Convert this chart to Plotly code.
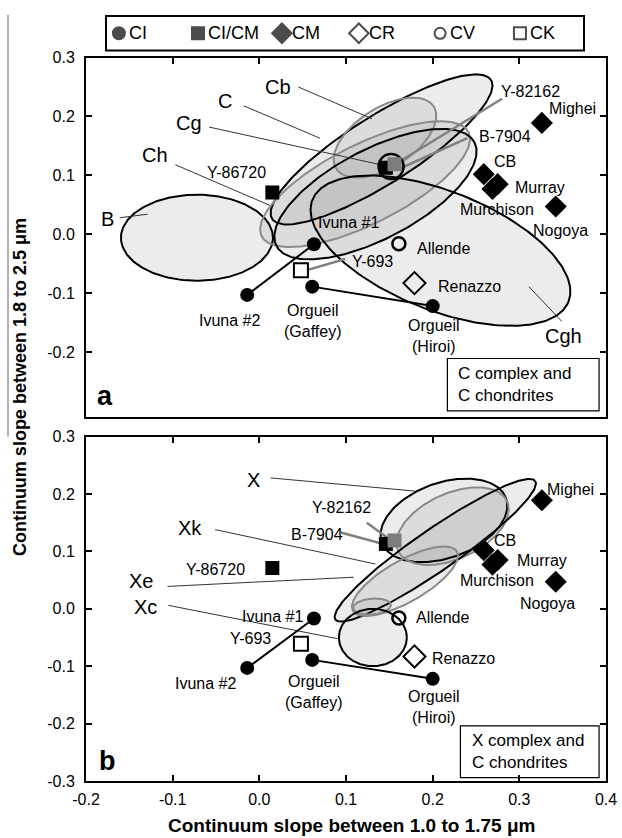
import numpy as np
import plotly.graph_objects as go

# ---------------- meteorite continuum slopes (x: 1.0-1.75 um, y: 1.8-2.5 um) ----------------
ci_names = ["Ivuna #1", "Ivuna #2", "Orgueil (Gaffey)", "Orgueil (Hiroi)"]
ci_x = [0.063, -0.014, 0.061, 0.200]
ci_y = [-0.017, -0.103, -0.089, -0.122]

cicm_names = ["Y-86720", "B-7904", "Y-82162"]
cicm_x = [0.015, 0.146, 0.156]
cicm_y = [0.071, 0.113, 0.119]
cicm_colors = ["black", "black", "#7d7d7d"]

cm_names = ["Mighei", "CB", "Murray", "Murchison", "Nogoya"]
cm_x = [0.326, 0.259, 0.275, 0.269, 0.342]
cm_y = [0.189, 0.102, 0.085, 0.077, 0.047]

cr_names = ["Renazzo"]
cr_x = [0.179]
cr_y = [-0.083]

cv_names = ["Allende"]
cv_x = [0.161]
cv_y = [-0.016]

ck_names = ["Y-693"]
ck_x = [0.048]
ck_y = [-0.061]

# ring drawn round the Y-82162 / B-7904 pair in panel a
ring_x = [0.152]
ring_y = [0.115]

# ---------------- asteroid class regions: centre (data), semi-axes (px), tilt (deg) ----------------
cls_a_cx = [-0.072, 0.141, 0.145, 0.122, 0.134, 0.209]
cls_a_cy = [-0.006, 0.144, 0.164, 0.085, 0.068, -0.028]
cls_a_a = [76, 130, 58, 116, 112, 138]
cls_a_b = [43.5, 34, 30, 40, 45, 60]
cls_a_ang = [0, 32.7, 33, 27, 28, -22]
cls_a_col = ["black", "black", "#8a8a8a", "#8a8a8a", "black", "black"]

cls_b_cx = [0.213, 0.223, 0.203, 0.168, 0.130, 0.131]
cls_b_cy = [0.154, 0.144, 0.102, 0.048, 0.004, -0.050]
cls_b_a = [66, 60, 122, 60, 19, 34]
cls_b_b = [38, 33, 21, 21, 8, 29]
cls_b_ang = [20, 25, 35, 30, 5, 0]
cls_b_col = ["black", "#8a8a8a", "black", "#8a8a8a", "#8a8a8a", "black"]

# ---------------- text labels ----------------
cls_lab_a = ["B", "Ch", "Cg", "C", "Cb", "Cgh"]
cls_lab_a_x = [-0.175, -0.120, -0.081, -0.040, 0.022, 0.351]
cls_lab_a_y = [0.026, 0.135, 0.188, 0.227, 0.250, -0.173]
lead_a_x0 = [-0.161, -0.097, -0.058, -0.018, 0.045, 0.311]
lead_a_y0 = [0.028, 0.118, 0.182, 0.218, 0.250, -0.089]
lead_a_x1 = [-0.129, 0.012, 0.140, 0.070, 0.130, 0.349]
lead_a_y1 = [0.034, 0.049, 0.118, 0.163, 0.196, -0.148]

cls_lab_b = ["X", "Xk", "Xe", "Xc"]
cls_lab_b_x = [-0.007, -0.080, -0.137, -0.131]
cls_lab_b_y = [0.225, 0.141, 0.049, 0.003]
lead_b_x0 = [0.013, -0.051, -0.106, -0.105]
lead_b_y0 = [0.228, 0.138, 0.039, 0.006]
lead_b_x1 = [0.180, 0.134, 0.109, 0.090]
lead_b_y1 = [0.205, 0.078, 0.055, -0.052]

pt_lab = ["Y-82162", "B-7904", "Mighei", "CB", "Murray", "Murchison", "Nogoya",
          "Y-86720", "Ivuna #1", "Allende", "Y-693", "Renazzo", "Ivuna #2",
          "Orgueil<br>(Gaffey)", "Orgueil<br>(Hiroi)"]
pt_lab_a_x = [0.313, 0.284, 0.361, 0.284, 0.324, 0.274, 0.347,
              -0.026, 0.103, 0.213, 0.130, 0.242, -0.034, 0.062, 0.201]
pt_lab_a_y = [0.243, 0.166, 0.214, 0.124, 0.079, 0.042, 0.006,
              0.104, 0.020, -0.025, -0.047, -0.088, -0.147, -0.148, -0.173]
pt_lab_b_x = [0.095, 0.067, 0.359, 0.284, 0.326, 0.274, 0.332,
              -0.051, 0.015, 0.211, -0.010, 0.236, -0.062, 0.063, 0.201]
pt_lab_b_y = [0.176, 0.130, 0.208, 0.119, 0.084, 0.049, 0.009,
              0.069, -0.014, -0.016, -0.052, -0.087, -0.130, -0.145, -0.171]

# gray pointer lines from labels to the CI/CM and CK points
ptr_a_x0 = [0.159, 0.163, 0.055]
ptr_a_y0 = [0.121, 0.112, -0.061]
ptr_a_x1 = [0.280, 0.240, 0.099]
ptr_a_y1 = [0.230, 0.163, -0.042]
ptr_b_x0 = [0.124, 0.094]
ptr_b_y0 = [0.150, 0.133]
ptr_b_x1 = [0.153, 0.143]
ptr_b_y1 = [0.118, 0.113]

# CI pairs joined by lines (indices into ci_*)
ci_pairs = [(1, 0), (2, 3)]

x_ticks = [-0.2, -0.1, 0.0, 0.1, 0.2, 0.3, 0.4]
x_tick_text = ["-0.2", "-0.1", "0.0", "0.1", "0.2", "0.3", "0.4"]
ya_ticks = [-0.2, -0.1, 0.0, 0.1, 0.2, 0.3]
ya_tick_text = ["-0.2", "-0.1", "0.0", "0.1", "0.2", "0.3"]
yb_ticks = [-0.3, -0.2, -0.1, 0.0, 0.1, 0.2, 0.3]
yb_tick_text = ["-0.3", "-0.2", "-0.1", "0.0", "0.1", "0.2", "0.3"]

legend_names = ["CI", "CI/CM", "CM", "CR", "CV", "CK"]
legend_symbols = ["circle", "square", "diamond", "diamond-open", "circle-open", "square-open"]

# ---------------- page geometry ----------------
W, H = 622, 838
ML, MR, MT, MB = 86, 16, 5, 57
PW, PH = W - ML - MR, H - MT - MB
X_RANGE = [-0.2, 0.4]
YA_RANGE = [-0.31, 0.30]
YB_RANGE = [-0.30, 0.30]


def row(py):
    return (H - MB - py) / PH


DOM_A = [row(413), row(50)]
DOM_B = [0.0, row(433)]
SX = PW / (X_RANGE[1] - X_RANGE[0])
SYA = (DOM_A[1] - DOM_A[0]) * PH / (YA_RANGE[1] - YA_RANGE[0])
SYB = (DOM_B[1] - DOM_B[0]) * PH / (YB_RANGE[1] - YB_RANGE[0])

FONT = "Arial, Liberation Sans, sans-serif"
FILL = "rgba(140,140,140,0.17)"


def ellipse(cx, cy, a, b, ang, sy):
    t = np.linspace(0, 2 * np.pi, 241)
    th = np.radians(ang)
    dx = a * np.cos(t) * np.cos(th) - b * np.sin(t) * np.sin(th)
    dy = a * np.cos(t) * np.sin(th) + b * np.sin(t) * np.cos(th)
    return cx + dx / SX, cy + dy / sy


fig = go.Figure()


def add_regions(cx, cy, aa, bb, ang, cols, sy, xa, ya):
    shapes = [ellipse(*p, sy) for p in zip(cx, cy, aa, bb, ang)]
    for ex, ey in shapes:
        fig.add_trace(go.Scatter(x=ex, y=ey, mode="lines", fill="toself", fillcolor=FILL,
                                 line=dict(width=0), xaxis=xa, yaxis=ya,
                                 showlegend=False, hoverinfo="skip"))
    for (ex, ey), c in zip(shapes, cols):
        fig.add_trace(go.Scatter(x=ex, y=ey, mode="lines", line=dict(color=c, width=2),
                                 xaxis=xa, yaxis=ya, showlegend=False, hoverinfo="skip"))


def segs(x0, y0, x1, y1):
    xs, ys = [], []
    for a, b, c, d in zip(x0, y0, x1, y1):
        xs += [a, c, None]
        ys += [b, d, None]
    return xs, ys


def add_points(xa, ya, ring):
    # CI connecting lines
    for i, j in ci_pairs:
        fig.add_trace(go.Scatter(x=[ci_x[i], ci_x[j]], y=[ci_y[i], ci_y[j]], mode="lines",
                                 line=dict(color="black", width=2), xaxis=xa, yaxis=ya,
                                 showlegend=False, hoverinfo="skip"))
    if ring:
        fig.add_trace(go.Scatter(x=ring_x, y=ring_y, mode="markers", xaxis=xa, yaxis=ya,
                                 marker=dict(symbol="circle-open", size=25, color="black",
                                             line=dict(width=2.5)),
                                 showlegend=False, hoverinfo="skip"))
    fig.add_trace(go.Scatter(x=ci_x, y=ci_y, text=ci_names, mode="markers", xaxis=xa, yaxis=ya,
                             marker=dict(symbol="circle", size=14, color="black"), showlegend=False))
    fig.add_trace(go.Scatter(x=cicm_x, y=cicm_y, text=cicm_names, mode="markers", xaxis=xa, yaxis=ya,
                             marker=dict(symbol="square", size=14, color=cicm_colors), showlegend=False))
    fig.add_trace(go.Scatter(x=cm_x, y=cm_y, text=cm_names, mode="markers", xaxis=xa, yaxis=ya,
                             marker=dict(symbol="diamond", size=17, color="black"), showlegend=False))
    fig.add_trace(go.Scatter(x=cr_x, y=cr_y, text=cr_names, mode="markers", xaxis=xa, yaxis=ya,
                             marker=dict(symbol="diamond-open", size=17, color="black",
                                         line=dict(width=2)), showlegend=False))
    fig.add_trace(go.Scatter(x=cv_x, y=cv_y, text=cv_names, mode="markers", xaxis=xa, yaxis=ya,
                             marker=dict(symbol="circle-open", size=13, color="black",
                                         line=dict(width=2.5)), showlegend=False))
    fig.add_trace(go.Scatter(x=ck_x, y=ck_y, text=ck_names, mode="markers", xaxis=xa, yaxis=ya,
                             marker=dict(symbol="square-open", size=14, color="black",
                                         line=dict(width=2)), showlegend=False))


# panel a
add_regions(cls_a_cx, cls_a_cy, cls_a_a, cls_a_b, cls_a_ang, cls_a_col, SYA, "x", "y")
lx, ly = segs(lead_a_x0, lead_a_y0, lead_a_x1, lead_a_y1)
fig.add_trace(go.Scatter(x=lx, y=ly, mode="lines", line=dict(color="#333", width=1),
                         xaxis="x", yaxis="y", showlegend=False, hoverinfo="skip"))
lx, ly = segs(ptr_a_x0, ptr_a_y0, ptr_a_x1, ptr_a_y1)
fig.add_trace(go.Scatter(x=lx, y=ly, mode="lines", line=dict(color="#808080", width=2.5),
                         xaxis="x", yaxis="y", showlegend=False, hoverinfo="skip"))
add_points("x", "y", True)

# panel b
add_regions(cls_b_cx, cls_b_cy, cls_b_a, cls_b_b, cls_b_ang, cls_b_col, SYB, "x2", "y2")
lx, ly = segs(lead_b_x0, lead_b_y0, lead_b_x1, lead_b_y1)
fig.add_trace(go.Scatter(x=lx, y=ly, mode="lines", line=dict(color="#333", width=1),
                         xaxis="x2", yaxis="y2", showlegend=False, hoverinfo="skip"))
lx, ly = segs(ptr_b_x0, ptr_b_y0, ptr_b_x1, ptr_b_y1)
fig.add_trace(go.Scatter(x=lx, y=ly, mode="lines", line=dict(color="#808080", width=2.5),
                         xaxis="x2", yaxis="y2", showlegend=False, hoverinfo="skip"))
add_points("x2", "y2", False)

# legend strip along the top
leg_pos = [0.027, 0.1925, 0.368, 0.529, 0.699, 0.866]
fig.add_trace(go.Scatter(x=leg_pos, y=[0.5] * 6, mode="markers", xaxis="x3", yaxis="y3",
                         marker=dict(symbol=legend_symbols, size=[12, 12, 15, 15, 11, 12],
                                     color="black", line=dict(width=2, color="black")),
                         showlegend=False, hoverinfo="skip"))

ann = []
for t, x in zip(legend_names, leg_pos):
    ann.append(dict(text=t, x=x + 0.016, y=0.5, xref="x3", yref="y3", xanchor="left",
                    yanchor="middle", showarrow=False, font=dict(size=18)))
for t, x, y in zip(cls_lab_a, cls_lab_a_x, cls_lab_a_y):
    ann.append(dict(text=t, x=x, y=y, xref="x", yref="y", showarrow=False, font=dict(size=20)))
for t, x, y in zip(cls_lab_b, cls_lab_b_x, cls_lab_b_y):
    ann.append(dict(text=t, x=x, y=y, xref="x2", yref="y2", showarrow=False, font=dict(size=20)))
for t, x, y in zip(pt_lab, pt_lab_a_x, pt_lab_a_y):
    ann.append(dict(text=t, x=x, y=y, xref="x", yref="y", showarrow=False,
                    font=dict(size=16), align="center"))
for t, x, y in zip(pt_lab, pt_lab_b_x, pt_lab_b_y):
    ann.append(dict(text=t, x=x, y=y, xref="x2", yref="y2", showarrow=False,
                    font=dict(size=16), align="center"))

ann += [
    dict(text="C complex and<br>C chondrites", x=0.227, y=-0.256, xref="x", yref="y",
         xanchor="left", yanchor="middle", align="left", showarrow=False, font=dict(size=17)),
    dict(text="X complex and<br>C chondrites", x=0.243, y=-0.249, xref="x2", yref="y2",
         xanchor="left", yanchor="middle", align="left", showarrow=False, font=dict(size=17)),
    dict(text="a", x=-0.178, y=-0.274, xref="x", yref="y", showarrow=False,
         font=dict(size=27, weight="bold")),
    dict(text="b", x=-0.175, y=-0.265, xref="x2", yref="y2", showarrow=False,
         font=dict(size=27, weight="bold")),
    dict(text="Continuum slope between 1.8 to 2.5 μm", textangle=-90,
         x=(20 - ML) / PW, y=row(383), xref="paper", yref="paper",
         xanchor="center", yanchor="middle", showarrow=False,
         font=dict(size=18, weight="bold")),
    dict(text="Continuum slope between 1.0 to 1.75 μm",
         x=(351 - ML) / PW, y=row(826), xref="paper", yref="paper",
         xanchor="center", yanchor="middle", showarrow=False,
         font=dict(size=19, weight="bold")),
]

shapes = [
    dict(type="rect", xref="x", yref="y", x0=0.217, x1=0.392, y0=-0.300, y1=-0.211,
         line=dict(color="black", width=1.2), fillcolor="white", layer="below"),
    dict(type="rect", xref="x2", yref="y2", x0=0.232, x1=0.392, y0=-0.294, y1=-0.204,
         line=dict(color="black", width=1.2), fillcolor="white", layer="below"),
    dict(type="rect", xref="x3 domain", yref="y3 domain", x0=0, x1=1, y0=0, y1=1,
         line=dict(color="black", width=2)),
    dict(type="line", xref="paper", yref="paper", x0=(8 - ML) / PW, x1=(8 - ML) / PW,
         y0=row(433), y1=row(7), line=dict(color="#666", width=1)),
]

axis_common = dict(showline=True, linecolor="black", linewidth=2, ticks="inside",
                   ticklen=6, tickwidth=1.5, tickcolor="black", showgrid=False,
                   zeroline=False, tickfont=dict(size=16, color="black"))

fig.update_layout(
    width=W, height=H, margin=dict(l=ML, r=MR, t=MT, b=MB),
    paper_bgcolor="white", plot_bgcolor="white",
    font=dict(family=FONT, color="black"),
    showlegend=False,
    xaxis=dict(range=X_RANGE, domain=[0, 1], anchor="y", side="top", mirror=True,
               tickvals=x_ticks, showticklabels=False, **axis_common),
    yaxis=dict(range=YA_RANGE, domain=DOM_A, anchor="x", mirror="ticks",
               tickvals=ya_ticks, ticktext=ya_tick_text, ticklabelstandoff=6, **axis_common),
    xaxis2=dict(range=X_RANGE, domain=[0, 1], anchor="y2", mirror="ticks",
                tickvals=x_ticks, ticktext=x_tick_text, ticklabelstandoff=3, **axis_common),
    yaxis2=dict(range=YB_RANGE, domain=DOM_B, anchor="x2", mirror="ticks",
                tickvals=yb_ticks, ticktext=yb_tick_text, ticklabelstandoff=6, **axis_common),
    xaxis3=dict(range=[0, 1], domain=[(106 - ML) / PW, (584 - ML) / PW], anchor="y3",
                visible=False, fixedrange=True),
    yaxis3=dict(range=[0, 1], domain=[row(43), row(8)], anchor="x3",
                visible=False, fixedrange=True),
    annotations=ann,
    shapes=shapes,
)

fig.write_html("out.html")
